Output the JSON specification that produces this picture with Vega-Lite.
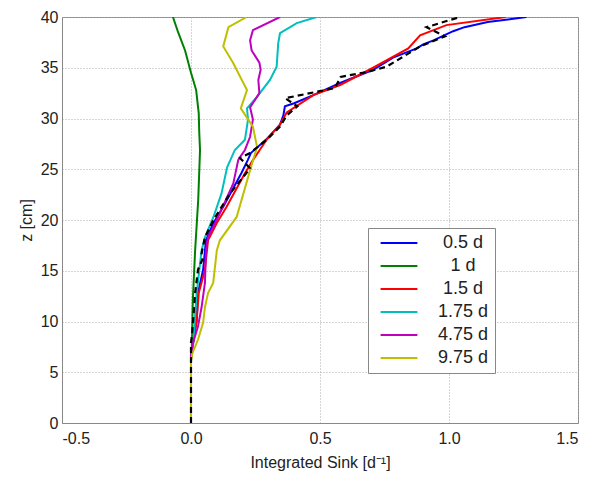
{
  "$schema": "https://vega.github.io/schema/vega-lite/v6.json",
  "width": 516,
  "height": 406,
  "autosize": {"type": "none"},
  "padding": {"left": 62, "top": 17, "right": 26, "bottom": 58},
  "background": "white",
  "config": {
    "view": {"stroke": "#888", "strokeWidth": 1},
    "font": "Liberation Sans",
    "axis": {
      "labelFont": "Liberation Sans",
      "labelFontSize": 16,
      "labelColor": "#222",
      "titleFont": "Liberation Sans",
      "titleFontSize": 16,
      "titleFontWeight": "normal",
      "titleColor": "#222",
      "domainColor": "#888",
      "gridColor": "#aaa",
      "gridDash": [1, 2],
      "gridWidth": 1,
      "ticks": false
    }
  },
  "datasets": {
    "curves": [
      {"s": "0.5 d", "z": 40, "x": 1.30}, {"s": "0.5 d", "z": 39.5, "x": 1.15}, {"s": "0.5 d", "z": 39, "x": 1.06}, {"s": "0.5 d", "z": 38.6, "x": 1.016}, {"s": "0.5 d", "z": 37.7, "x": 0.94}, {"s": "0.5 d", "z": 37.3, "x": 0.90}, {"s": "0.5 d", "z": 36.9, "x": 0.875}, {"s": "0.5 d", "z": 36, "x": 0.783}, {"s": "0.5 d", "z": 34.8, "x": 0.706}, {"s": "0.5 d", "z": 33.5, "x": 0.578}, {"s": "0.5 d", "z": 32.3, "x": 0.474}, {"s": "0.5 d", "z": 31.5, "x": 0.40}, {"s": "0.5 d", "z": 31.2, "x": 0.364}, {"s": "0.5 d", "z": 30.3, "x": 0.358}, {"s": "0.5 d", "z": 29.4, "x": 0.345}, {"s": "0.5 d", "z": 27.9, "x": 0.29}, {"s": "0.5 d", "z": 26.6, "x": 0.232}, {"s": "0.5 d", "z": 25.9, "x": 0.22}, {"s": "0.5 d", "z": 24.6, "x": 0.195}, {"s": "0.5 d", "z": 21.3, "x": 0.125}, {"s": "0.5 d", "z": 19.7, "x": 0.087}, {"s": "0.5 d", "z": 18, "x": 0.058}, {"s": "0.5 d", "z": 15.1, "x": 0.047}, {"s": "0.5 d", "z": 12.8, "x": 0.027}, {"s": "0.5 d", "z": 10.1, "x": 0.022}, {"s": "0.5 d", "z": 7.5, "x": 0.005}, {"s": "0.5 d", "z": 6.5, "x": 0}, {"s": "0.5 d", "z": 0, "x": 0},
      {"s": "1 d", "z": 40, "x": -0.07}, {"s": "1 d", "z": 38.5, "x": -0.05}, {"s": "1 d", "z": 36.7, "x": -0.023}, {"s": "1 d", "z": 34.5, "x": 0.0}, {"s": "1 d", "z": 32.8, "x": 0.02}, {"s": "1 d", "z": 30.5, "x": 0.03}, {"s": "1 d", "z": 28.6, "x": 0.032}, {"s": "1 d", "z": 26.9, "x": 0.035}, {"s": "1 d", "z": 22, "x": 0.028}, {"s": "1 d", "z": 17, "x": 0.016}, {"s": "1 d", "z": 12.1, "x": 0.007}, {"s": "1 d", "z": 7.2, "x": 0.003}, {"s": "1 d", "z": 6, "x": 0}, {"s": "1 d", "z": 0, "x": 0},
      {"s": "1.5 d", "z": 40, "x": 1.22}, {"s": "1.5 d", "z": 39.2, "x": 0.99}, {"s": "1.5 d", "z": 38.2, "x": 0.888}, {"s": "1.5 d", "z": 36.9, "x": 0.842}, {"s": "1.5 d", "z": 35, "x": 0.706}, {"s": "1.5 d", "z": 33.3, "x": 0.578}, {"s": "1.5 d", "z": 32.3, "x": 0.474}, {"s": "1.5 d", "z": 30.6, "x": 0.371}, {"s": "1.5 d", "z": 29.4, "x": 0.345}, {"s": "1.5 d", "z": 27.9, "x": 0.293}, {"s": "1.5 d", "z": 25.9, "x": 0.24}, {"s": "1.5 d", "z": 24.6, "x": 0.209}, {"s": "1.5 d", "z": 21.3, "x": 0.138}, {"s": "1.5 d", "z": 19.7, "x": 0.1}, {"s": "1.5 d", "z": 18, "x": 0.066}, {"s": "1.5 d", "z": 15.1, "x": 0.054}, {"s": "1.5 d", "z": 12.8, "x": 0.03}, {"s": "1.5 d", "z": 10.1, "x": 0.022}, {"s": "1.5 d", "z": 7, "x": 0.003}, {"s": "1.5 d", "z": 6.5, "x": 0}, {"s": "1.5 d", "z": 0, "x": 0},
      {"s": "1.75 d", "z": 40, "x": 0.487}, {"s": "1.75 d", "z": 39.4, "x": 0.41}, {"s": "1.75 d", "z": 38.4, "x": 0.345}, {"s": "1.75 d", "z": 37.4, "x": 0.338}, {"s": "1.75 d", "z": 35.1, "x": 0.332}, {"s": "1.75 d", "z": 33.8, "x": 0.306}, {"s": "1.75 d", "z": 32.1, "x": 0.255}, {"s": "1.75 d", "z": 31, "x": 0.217}, {"s": "1.75 d", "z": 29.9, "x": 0.221}, {"s": "1.75 d", "z": 27.9, "x": 0.209}, {"s": "1.75 d", "z": 26.9, "x": 0.17}, {"s": "1.75 d", "z": 25.2, "x": 0.14}, {"s": "1.75 d", "z": 22.6, "x": 0.118}, {"s": "1.75 d", "z": 20.3, "x": 0.087}, {"s": "1.75 d", "z": 18.3, "x": 0.054}, {"s": "1.75 d", "z": 17, "x": 0.041}, {"s": "1.75 d", "z": 12.8, "x": 0.022}, {"s": "1.75 d", "z": 7.2, "x": 0.007}, {"s": "1.75 d", "z": 6.5, "x": 0}, {"s": "1.75 d", "z": 0, "x": 0},
      {"s": "4.75 d", "z": 40, "x": 0.345}, {"s": "4.75 d", "z": 38.7, "x": 0.24}, {"s": "4.75 d", "z": 37.7, "x": 0.229}, {"s": "4.75 d", "z": 36.7, "x": 0.235}, {"s": "4.75 d", "z": 35.5, "x": 0.265}, {"s": "4.75 d", "z": 34.8, "x": 0.27}, {"s": "4.75 d", "z": 33.8, "x": 0.261}, {"s": "4.75 d", "z": 32.5, "x": 0.265}, {"s": "4.75 d", "z": 31.1, "x": 0.229}, {"s": "4.75 d", "z": 29.9, "x": 0.24}, {"s": "4.75 d", "z": 28.2, "x": 0.229}, {"s": "4.75 d", "z": 26.9, "x": 0.209}, {"s": "4.75 d", "z": 26.2, "x": 0.19}, {"s": "4.75 d", "z": 25.9, "x": 0.183}, {"s": "4.75 d", "z": 23.6, "x": 0.164}, {"s": "4.75 d", "z": 20.3, "x": 0.105}, {"s": "4.75 d", "z": 18.3, "x": 0.066}, {"s": "4.75 d", "z": 17, "x": 0.058}, {"s": "4.75 d", "z": 13.8, "x": 0.054}, {"s": "4.75 d", "z": 11.4, "x": 0.041}, {"s": "4.75 d", "z": 9.5, "x": 0.027}, {"s": "4.75 d", "z": 7.9, "x": 0.008}, {"s": "4.75 d", "z": 6.8, "x": 0}, {"s": "4.75 d", "z": 0, "x": 0},
      {"s": "9.75 d", "z": 40, "x": 0.216}, {"s": "9.75 d", "z": 39, "x": 0.145}, {"s": "9.75 d", "z": 37.1, "x": 0.125}, {"s": "9.75 d", "z": 35.5, "x": 0.163}, {"s": "9.75 d", "z": 32.8, "x": 0.217}, {"s": "9.75 d", "z": 31, "x": 0.193}, {"s": "9.75 d", "z": 29.2, "x": 0.24}, {"s": "9.75 d", "z": 27.2, "x": 0.256}, {"s": "9.75 d", "z": 24.9, "x": 0.229}, {"s": "9.75 d", "z": 24.2, "x": 0.221}, {"s": "9.75 d", "z": 20.3, "x": 0.177}, {"s": "9.75 d", "z": 18, "x": 0.112}, {"s": "9.75 d", "z": 17, "x": 0.1}, {"s": "9.75 d", "z": 13.8, "x": 0.086}, {"s": "9.75 d", "z": 12.8, "x": 0.066}, {"s": "9.75 d", "z": 11.4, "x": 0.054}, {"s": "9.75 d", "z": 9.9, "x": 0.047}, {"s": "9.75 d", "z": 8.2, "x": 0.027}, {"s": "9.75 d", "z": 6.9, "x": 0.006}, {"s": "9.75 d", "z": 6.2, "x": 0}, {"s": "9.75 d", "z": 0, "x": 0}
    ],
    "measured": [
      {"z": 40, "x": 1.043}, {"z": 39, "x": 0.913}, {"z": 38.1, "x": 0.984}, {"z": 37.1, "x": 0.888}, {"z": 35.1, "x": 0.758}, {"z": 34.6, "x": 0.686}, {"z": 34.1, "x": 0.58}, {"z": 33, "x": 0.558}, {"z": 32, "x": 0.365}, {"z": 31.2, "x": 0.412}, {"z": 30.3, "x": 0.371}, {"z": 29.2, "x": 0.345}, {"z": 27.9, "x": 0.293}, {"z": 26.6, "x": 0.229}, {"z": 26.1, "x": 0.19}, {"z": 25.1, "x": 0.229}, {"z": 24.8, "x": 0.22}, {"z": 22.6, "x": 0.151}, {"z": 20, "x": 0.087}, {"z": 18.3, "x": 0.054}, {"z": 16.7, "x": 0.041}, {"z": 16.1, "x": 0.044}, {"z": 15.1, "x": 0.027}, {"z": 12.8, "x": 0.016}, {"z": 9, "x": 0.005}, {"z": 7.9, "x": 0}, {"z": 0, "x": 0}
    ]
  },
  "layer": [
    {
      "data": {"name": "curves"},
      "mark": {"type": "line", "strokeWidth": 2, "clip": true},
      "encoding": {
        "x": {"field": "x", "type": "quantitative", "scale": {"domain": [-0.5, 1.5], "nice": false},
          "axis": {"values": [-0.5, 0, 0.5, 1, 1.5], "title": "Integrated Sink [d⁻¹]", "labelPadding": 7, "titlePadding": 8, "labelExpr": "replace(datum.label, '−', '-')"}},
        "y": {"field": "z", "type": "quantitative", "scale": {"domain": [0, 40], "nice": false, "zero": false},
          "axis": {"values": [0, 5, 10, 15, 20, 25, 30, 35, 40], "title": "z [cm]", "labelPadding": 4, "titlePadding": 6}},
        "color": {"field": "s", "type": "nominal",
          "scale": {"domain": ["0.5 d", "1 d", "1.5 d", "1.75 d", "4.75 d", "9.75 d"], "range": ["#0000ff", "#008000", "#ff0000", "#00bfbf", "#bf00bf", "#bfbf00"]},
          "legend": {"title": null, "orient": "none", "legendX": 306, "legendY": 211, "symbolType": "M-4.6,0H4.6", "symbolSize": 64, "symbolStrokeWidth": 2.2, "symbolOffset": 16, "labelFontSize": 18, "labelFont": "Liberation Sans", "labelColor": "#222", "labelAlign": "center", "labelOffset": 55, "rowPadding": 5, "padding": 6, "fillColor": "white", "strokeColor": "#888"}},
        "order": {"field": "z", "type": "quantitative"}
      }
    },
    {
      "data": {"name": "measured"},
      "mark": {"type": "line", "color": "black", "strokeWidth": 2.2, "strokeDash": [6, 4], "clip": true},
      "encoding": {
        "x": {"field": "x", "type": "quantitative"},
        "y": {"field": "z", "type": "quantitative"},
        "order": {"field": "z", "type": "quantitative"}
      }
    }
  ]
}
